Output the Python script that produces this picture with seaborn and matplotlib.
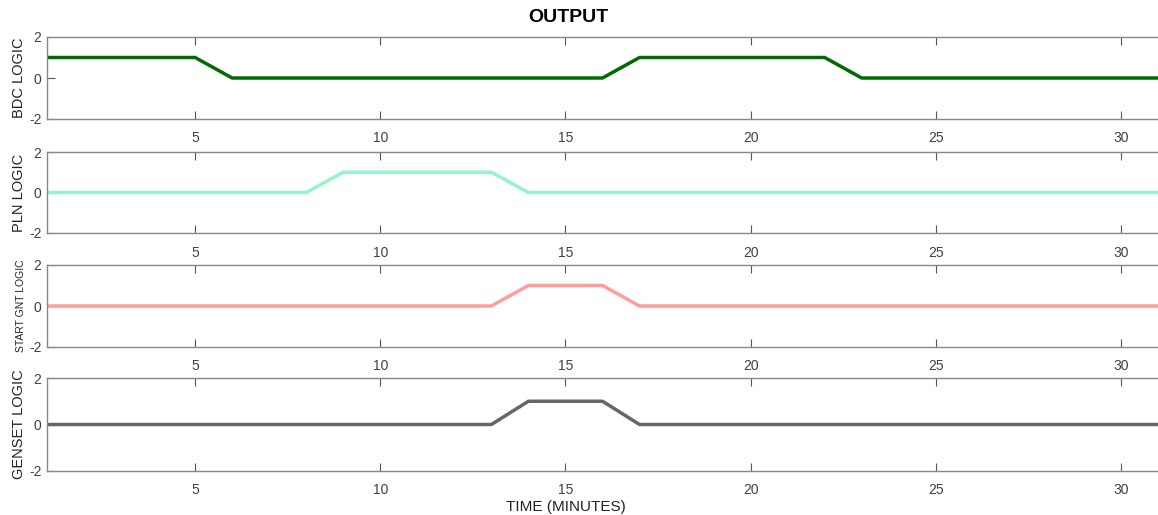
import matplotlib
matplotlib.use("Agg")
import matplotlib.pyplot as plt
import seaborn as sns
import pandas as pd

time_min = [1, 2, 3, 4, 5, 6, 7, 8, 9, 10, 11, 12, 13, 14, 15, 16,
            17, 18, 19, 20, 21, 22, 23, 24, 25, 26, 27, 28, 29, 30, 31]
bdc_logic = [1, 1, 1, 1, 1, 0, 0, 0, 0, 0, 0, 0, 0, 0, 0, 0,
             1, 1, 1, 1, 1, 1, 0, 0, 0, 0, 0, 0, 0, 0, 0]
pln_logic = [0, 0, 0, 0, 0, 0, 0, 0, 1, 1, 1, 1, 1, 0, 0, 0,
             0, 0, 0, 0, 0, 0, 0, 0, 0, 0, 0, 0, 0, 0, 0]
start_gnt_logic = [0, 0, 0, 0, 0, 0, 0, 0, 0, 0, 0, 0, 0, 1, 1, 1,
                   0, 0, 0, 0, 0, 0, 0, 0, 0, 0, 0, 0, 0, 0, 0]
genset_logic = [0, 0, 0, 0, 0, 0, 0, 0, 0, 0, 0, 0, 0, 1, 1, 1,
                0, 0, 0, 0, 0, 0, 0, 0, 0, 0, 0, 0, 0, 0, 0]

labels = ["BDC LOGIC", "PLN LOGIC", "START GNT LOGIC", "GENSET LOGIC"]
series = [bdc_logic, pln_logic, start_gnt_logic, genset_logic]
colors = ["#006b00", "#96f5c8", "#ff9c9c", "#666666"]
label_sizes = [10.5, 10.5, 7.5, 10.5]
xticks = [5, 10, 15, 20, 25, 30]
yticks = [-2, 0, 2]

sns.set_style("white")
plt.rcParams["font.family"] = ["Liberation Sans", "DejaVu Sans"]

W, H = 1158, 515
fig = plt.figure(figsize=(W / 100, H / 100), dpi=100)

# panel (top, bottom) in pixels
panels = [(37, 119), (152, 233), (265, 347), (378, 471)]
left_px = 47

for (top, bot), lab, vals, col, ls in zip(panels, labels, series, colors, label_sizes):
    ax = fig.add_axes([left_px / W, 1 - bot / H, (W - left_px) / W, (bot - top) / H])
    df = pd.DataFrame({"t": time_min, "v": vals})
    sns.lineplot(data=df, x="t", y="v", ax=ax, color=col, linewidth=2.5)
    ax.set_xlim(1, 31)
    ax.set_ylim(-2, 2)
    ax.set_xticks(xticks)
    ax.set_yticks(yticks)
    ax.set_xticklabels([str(t) for t in xticks])
    ax.set_yticklabels([str(t) for t in yticks])
    ax.tick_params(axis="x", direction="in", length=6, width=0.8, color="#555555",
                   top=True, bottom=True, labelsize=10, labelcolor="#404040", pad=9)
    ax.tick_params(axis="y", direction="in", length=6, width=0.8, color="#555555",
                   left=True, labelsize=10, labelcolor="#404040", pad=4)
    for side in ["left", "top", "bottom"]:
        ax.spines[side].set_color("#888888")
        ax.spines[side].set_linewidth(1.0)
    ax.spines["right"].set_visible(False)
    ax.set_ylabel(lab, fontsize=ls, color="#222222", labelpad=2)
    ax.set_xlabel("")
    ax.grid(False)

fig.text(568 / W, 1 - 18 / H, "OUTPUT", ha="center", va="center",
         fontsize=14, fontweight="bold", color="black")
fig.text(566 / W, 1 - 507 / H, "TIME (MINUTES)", ha="center", va="center",
         fontsize=11, color="#222222")

fig.savefig("out.png", dpi=100)
